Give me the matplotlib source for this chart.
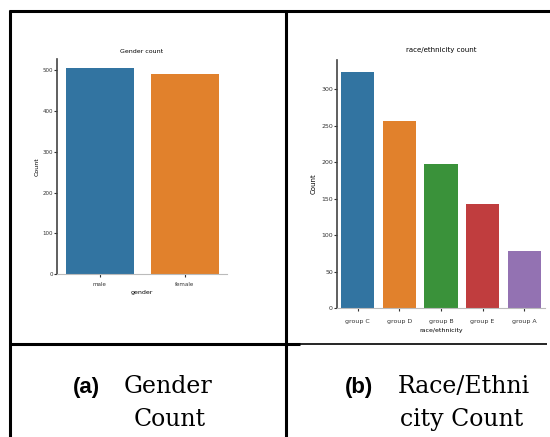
import matplotlib.pyplot as plt
from matplotlib.lines import Line2D

# data
genero = ['male', 'female']
contagem_genero = [505, 490]

grupos = ['group C', 'group D', 'group B', 'group E', 'group A']
contagem_grupo = [323, 257, 198, 143, 78]

cores = ['#3274a1', '#e1812c', '#3a923a', '#c03d3e', '#9372b2']

W, H = 550, 437
fig = plt.figure(figsize=(W / 100, H / 100), dpi=100)


def caixa(x0, y0, x1, y1):
    # pixel box (top-left origin) -> figure fraction rect
    return [x0 / W, 1 - y1 / H, (x1 - x0) / W, (y1 - y0) / H]


def estilo(ax, fs):
    ax.spines['top'].set_visible(False)
    ax.spines['right'].set_visible(False)
    ax.spines['left'].set_color('#444444')
    ax.spines['left'].set_linewidth(1.2)
    ax.spines['bottom'].set_color('#bbbbbb')
    ax.tick_params(labelsize=fs, length=2, width=0.8, pad=1, colors='#333333')


# (a) gender
ax1 = fig.add_axes(caixa(57, 59, 227, 274))
ax1.bar(range(len(genero)), contagem_genero, width=0.8, color=cores[:2])
ax1.set_xlim(-0.5, 1.5)
ax1.set_ylim(0, 528)
ax1.set_yticks([0, 100, 200, 300, 400, 500])
ax1.set_xticks(range(len(genero)))
ax1.set_xticklabels(genero)
ax1.set_title('Gender count', fontsize=4.5, pad=4)
ax1.set_ylabel('Count', fontsize=4.5, labelpad=2)
estilo(ax1, 4)
ax1.tick_params(axis='x', pad=4)
ax1.set_xlabel('gender', fontsize=4.5, labelpad=2)

# (b) race/ethnicity
ax2 = fig.add_axes(caixa(337, 60, 545, 308))
ax2.bar(range(len(grupos)), contagem_grupo, width=0.8, color=cores)
ax2.set_xlim(-0.5, 4.5)
ax2.set_ylim(0, 340)
ax2.set_yticks([0, 50, 100, 150, 200, 250, 300])
ax2.set_xticks(range(len(grupos)))
ax2.set_xticklabels(grupos)
ax2.set_title('race/ethnicity count', fontsize=5, pad=6)
ax2.set_ylabel('Count', fontsize=5, labelpad=3)
estilo(ax2, 4.5)
ax2.tick_params(axis='x', pad=6)
ax2.set_xlabel('race/ethnicity', fontsize=4.5, labelpad=3)

# table lines
def linha(xs, ys, lw):
    fig.add_artist(Line2D([x / W for x in xs], [1 - y / H for y in ys],
                          color='black', linewidth=lw, solid_capstyle='butt'))

linha([9, 550], [11, 11], 2.2)
linha([10, 10], [10, 437], 2.2)
linha([286, 286], [10, 437], 2.2)
linha([9, 300], [344, 344], 2.2)
linha([300, 547], [344, 344], 1.2)

# captions
serif = ['DejaVu Serif']
fig.text(73 / W, 1 - 393 / H, '(a)', fontsize=16, fontweight='bold',
         family='Liberation Sans')
fig.text(124 / W, 1 - 393 / H, 'Gender', fontsize=17, family=serif)
fig.text(134 / W, 1 - 426 / H, 'Count', fontsize=17, family=serif)
fig.text(345 / W, 1 - 393 / H, '(b)', fontsize=16, fontweight='bold',
         family='Liberation Sans')
fig.text(398 / W, 1 - 393 / H, 'Race/Ethni', fontsize=17, family=serif)
fig.text(400 / W, 1 - 426 / H, 'city Count', fontsize=17, family=serif)

fig.savefig('out.png', dpi=100)
